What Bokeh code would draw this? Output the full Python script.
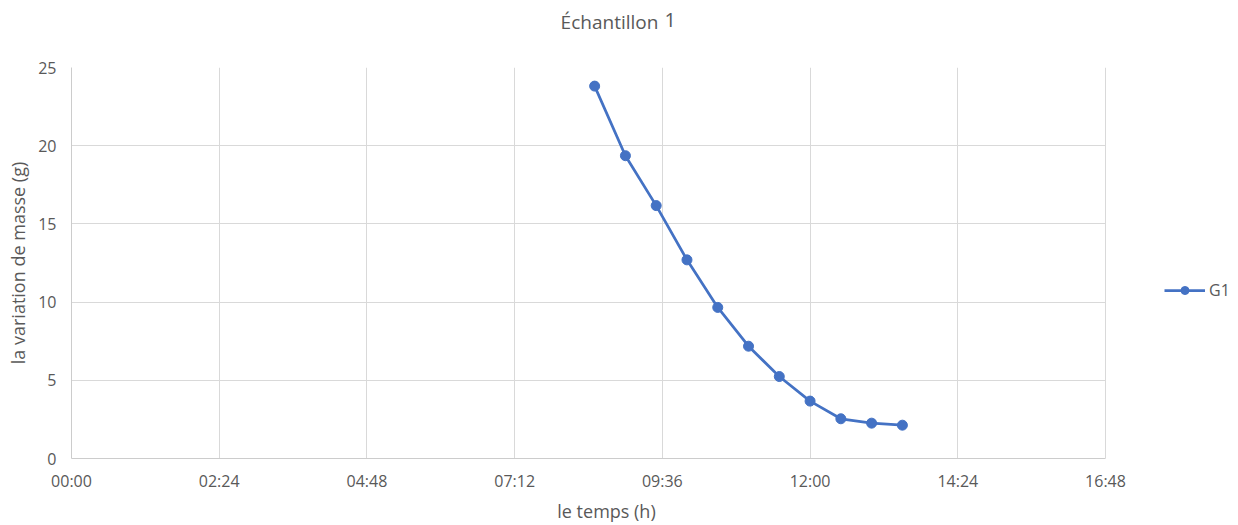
from bokeh.plotting import figure
from bokeh.models import Range1d, FixedTicker, Legend, LegendItem, Title, LinearAxis
from bokeh.embed import file_html
from bokeh.resources import INLINE

# ---- data ----
times = ["08:30", "09:00", "09:30", "10:00", "10:30", "11:00", "11:30", "12:00", "12:30", "13:00", "13:30"]
g1 = [23.81, 19.36, 16.17, 12.70, 9.66, 7.18, 5.24, 3.67, 2.54, 2.26, 2.13]
x_tick_labels = ["00:00", "02:24", "04:48", "07:12", "09:36", "12:00", "14:24", "16:48"]
y_ticks = [0, 5, 10, 15, 20, 25]
series_name = "G1"
title_text = "Échantillon"
title_num = "1"
x_label = "le temps (h)"
y_label = "la variation de masse (g)"

def to_min(s):
    h, m = s.split(":")
    return int(h) * 60 + int(m)

xs = [to_min(t) for t in times]
x_ticks = [to_min(t) for t in x_tick_labels]

FONT = "Open Sans"
TXT = "#595959"
GRID = "#d9d9d9"
BLUE = "#4472C4"

W, H = 1238, 525
L, R, T, B = 71, 1105, 67, 458      # plot-area box of the reference, in pixels
XMAX = x_ticks[-1]
YMAX = y_ticks[-1]
XEXT = XMAX * (W - L) / (R - L)     # frame runs to the right edge to host the legend

def px_to_x(px):
    return (px - L) * XMAX / (R - L)

p = figure(width=W, height=H, output_backend="svg", toolbar_location=None,
           x_range=Range1d(0, XEXT), y_range=Range1d(0, YMAX),
           min_border_left=L, min_border_right=0, min_border_top=T, min_border_bottom=H - B)
p.outline_line_color = None
p.background_fill_color = "white"
p.border_fill_color = "white"

p.xaxis.ticker = FixedTicker(ticks=x_ticks)
p.xaxis.major_label_overrides = {t: l for t, l in zip(x_ticks, x_tick_labels)}
p.xaxis.bounds = (0, XMAX)
p.yaxis.ticker = FixedTicker(ticks=y_ticks)
p.xgrid.ticker = FixedTicker(ticks=x_ticks)
p.ygrid.ticker = FixedTicker(ticks=y_ticks)
p.ygrid.cross_bounds = (0, XMAX)
for g in (p.xgrid, p.ygrid):
    g.grid_line_color = GRID
    g.grid_line_width = 1
for ax in (p.xaxis, p.yaxis):
    ax.axis_line_color = "#cccccc"
    ax.major_tick_line_color = None
    ax.minor_tick_line_color = None
    ax.major_label_text_font = FONT
    ax.major_label_text_font_size = "16px"
    ax.major_label_text_color = TXT
    ax.axis_label_text_font = FONT
    ax.axis_label_text_font_size = "18px"
    ax.axis_label_text_color = TXT
    ax.axis_label_text_font_style = "normal"
p.xaxis.major_label_standoff = 5
p.yaxis.major_label_standoff = 9
p.yaxis.axis_label = y_label
p.yaxis.axis_label_standoff = 5

# x-axis title as the single label of a bare second bottom axis (centred where the reference has it)
xl_pos = px_to_x(606)
xl_ax = LinearAxis(ticker=FixedTicker(ticks=[xl_pos]), major_label_overrides={xl_pos: x_label},
                   axis_line_color=None, major_tick_line_color=None, minor_tick_line_color=None,
                   major_label_text_font=FONT, major_label_text_font_size="18px",
                   major_label_text_color=TXT, major_label_standoff=-2)
p.add_layout(xl_ax, "below")

# chart title: "Échantillon" as a bare top axis label, larger "1" as a Title
t_pos = px_to_x(609)
top_ax = LinearAxis(ticker=FixedTicker(ticks=[t_pos]), major_label_overrides={t_pos: title_text},
                    axis_line_color=None, major_tick_line_color=None, minor_tick_line_color=None,
                    major_label_text_font=FONT, major_label_text_font_size="19px",
                    major_label_text_color=TXT, major_label_standoff=27)
p.add_layout(top_ax, "above")
p.add_layout(Title(text=title_num, align="left", offset=664 - L, text_font=FONT, text_font_size="20px",
                   text_color=TXT, text_font_style="normal", standoff=-42), "above")

ln = p.line(xs, g1, line_color=BLUE, line_width=2.75)
sc = p.scatter(xs, g1, size=10, marker="circle", fill_color=BLUE, line_color=BLUE)

legend = Legend(items=[LegendItem(label=series_name, renderers=[ln, sc])],
                location=(1164 - L, B - 301), orientation="vertical",
                label_text_font=FONT, label_text_font_size="16px", label_text_color=TXT,
                glyph_width=41, glyph_height=20, padding=0, margin=0, spacing=0,
                label_standoff=4, border_line_color=None, background_fill_alpha=0)
p.add_layout(legend, "center")

open("out.html", "w").write(file_html(p, INLINE))
